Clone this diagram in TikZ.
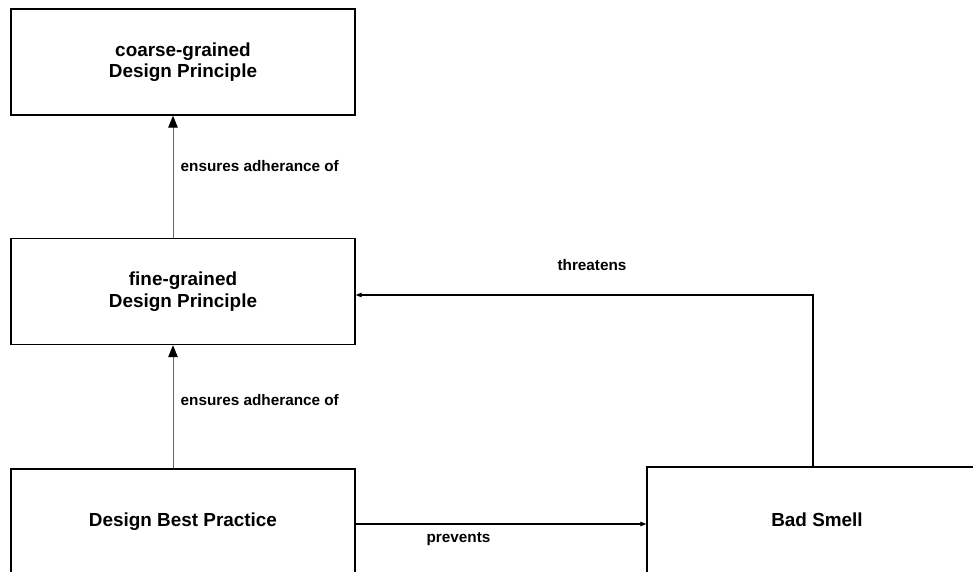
\documentclass[tikz,border=0pt]{standalone}
\usepackage{fontspec}
\setmainfont{Liberation Sans}
\usetikzlibrary{arrows.meta}
\begin{document}
\begin{tikzpicture}[x=1bp,y=-1bp,
  box/.style={draw=black,line width=1.3bp,fill=white,minimum width=344bp,minimum height=106bp,
    align=center,inner sep=0pt,font=\bfseries\fontsize{18.9bp}{21.5bp}\selectfont},
  lbl/.style={font=\bfseries\fontsize{15.3bp}{18bp}\selectfont,inner sep=0pt},
  varrow/.style={draw=black!60,line width=1bp,-{Triangle[length=12bp,width=9.5bp,black]}},
  harrow/.style={draw=black,line width=1.2bp,-{Triangle[length=6bp,width=4.5bp]}}]
\useasboundingbox (0,0) rectangle (973,572);
\clip (0,0) rectangle (973,572);
\fill[white] (0,0) rectangle (973,572);

% boxes
\node[box] (coarse) at (183,62) {coarse-grained\\Design Principle};
\node[box] (fine) at (183,291.5) {fine-grained\\Design Principle};
\node[box] (dbp) at (183,522) {Design Best Practice};
\node[box,minimum width=340bp] (bad) at (817,520) {Bad Smell};

% connector routing points
\coordinate (vx) at (173,0);
\coordinate (thr) at (813,295);
\coordinate (pv) at (0,524);

% connectors
\draw[varrow] (dbp.north -| vx) -- (fine.south -| vx);
\draw[varrow] (fine.north -| vx) -- (coarse.south -| vx);
\draw[harrow] (bad.north -| thr) |- (fine.east |- thr);
\draw[harrow] (dbp.east |- pv) -- (bad.west |- pv);

% labels
\node[lbl,anchor=west] (l1) at (180.5,166.5) {ensures adherance of};
\node[lbl,anchor=west] (l2) at (180.5,400) {ensures adherance of};
\node[lbl] (l3) at (592,265) {threatens};
\node[lbl] (l4) at (458.5,539) {prevents};
\end{tikzpicture}
\end{document}
